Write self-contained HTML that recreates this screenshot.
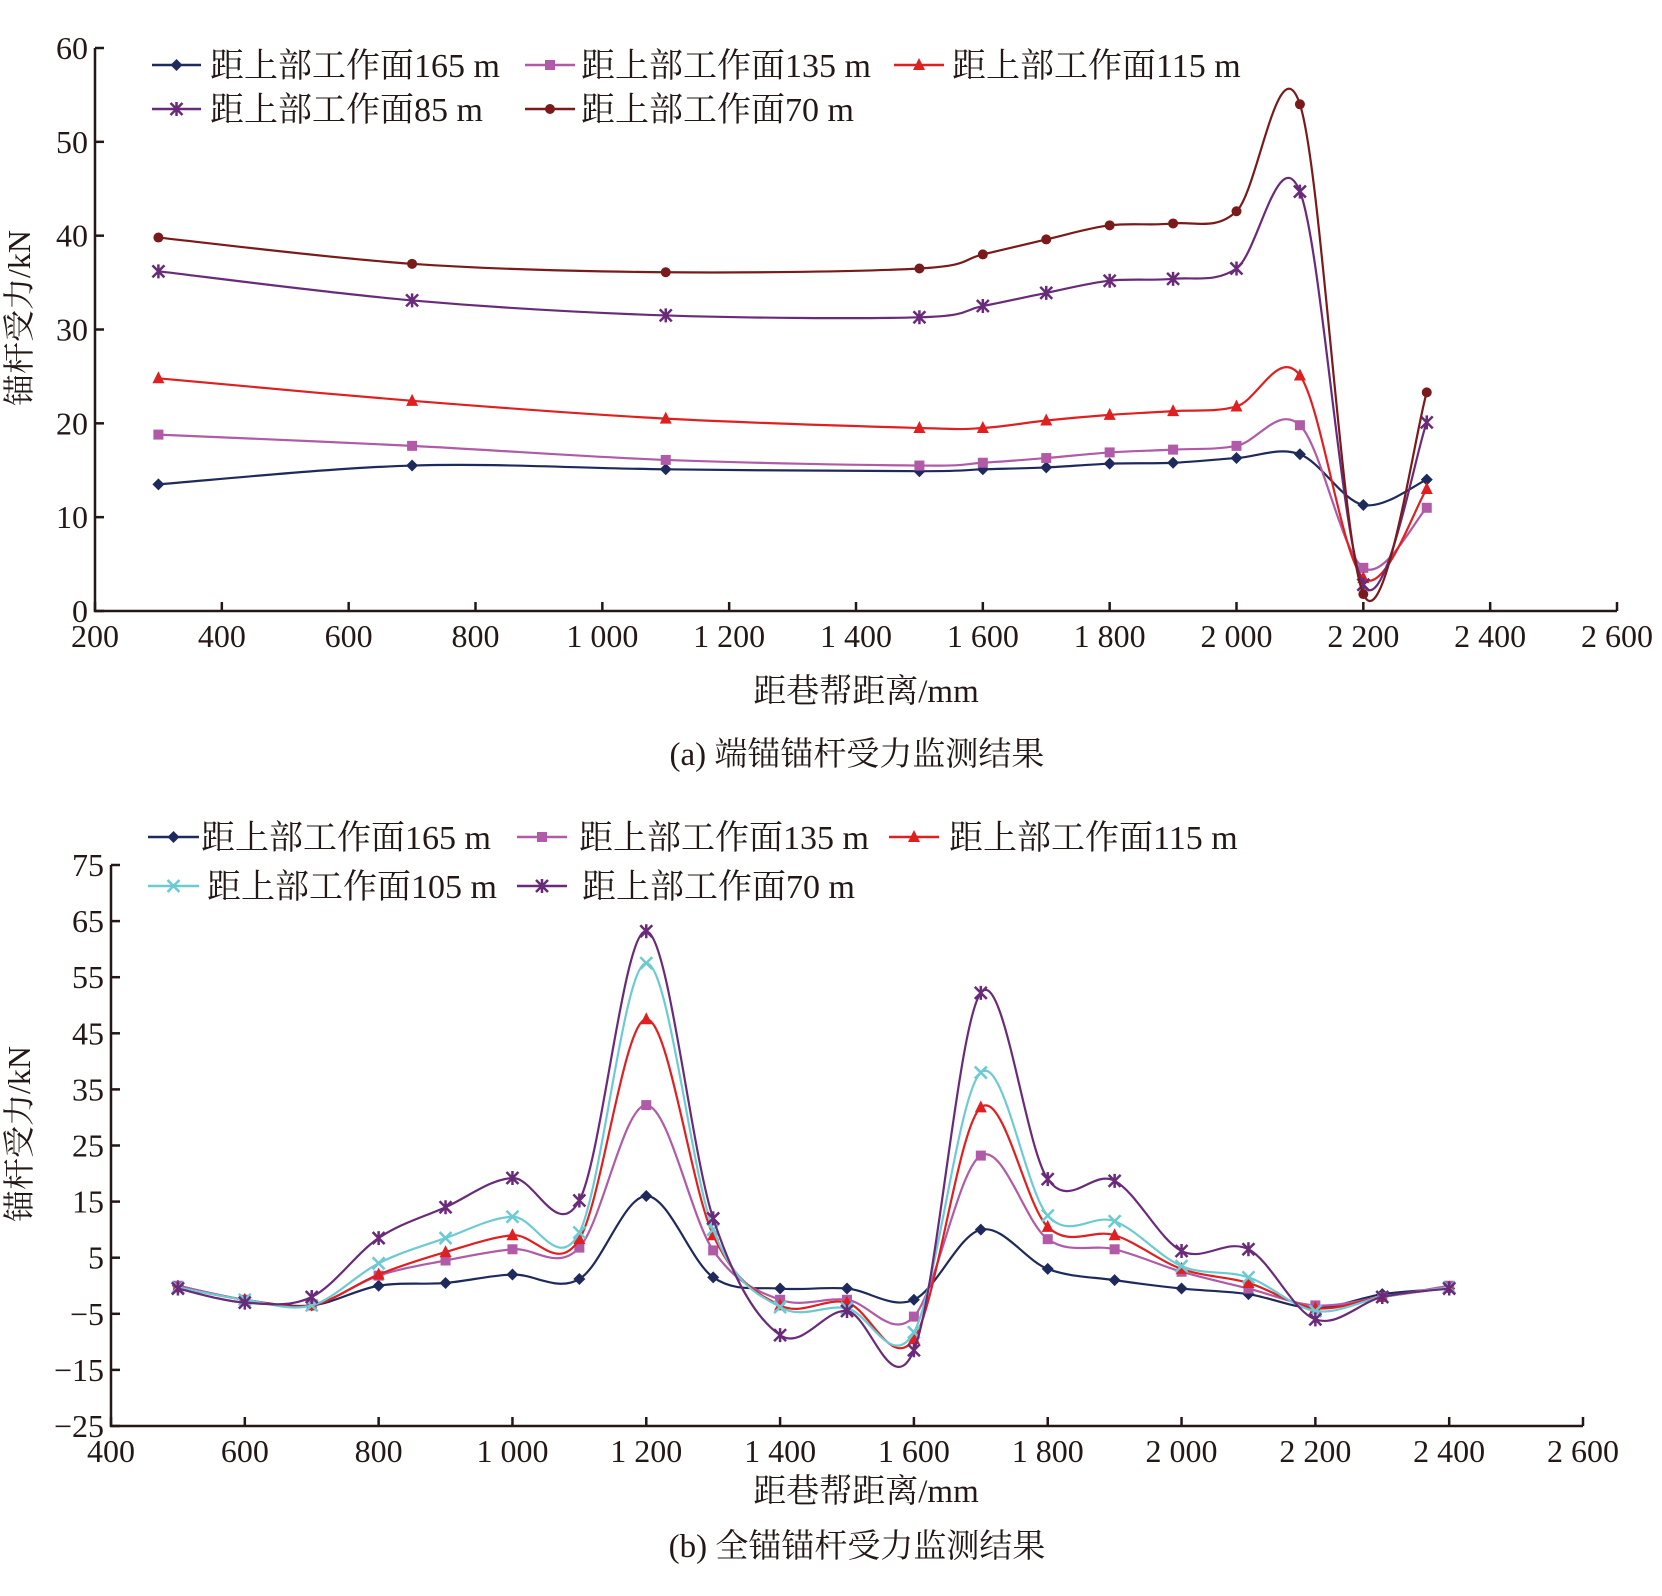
<!DOCTYPE html>
<html><head><meta charset="utf-8"><style>
body{margin:0;background:#fff}
svg text{font-family:"Liberation Serif","Noto Serif CJK SC",serif;fill:#231815}
</style></head><body>
<svg id="svg" width="1662" height="1591" viewBox="0 0 1662 1591"></svg>
<script>
// ---------- Chart (a) data ----------
const xA = [300,700,1100,1500,1600,1700,1800,1900,2000,2100,2200,2300];
const a165 = [13.5,15.5,15.1,14.9,15.1,15.3,15.7,15.8,16.3,16.7,11.3,14];
const a135 = [18.8,17.6,16.1,15.5,15.8,16.3,16.9,17.2,17.6,19.8,4.6,11];
const a115 = [24.8,22.4,20.5,19.5,19.5,20.3,20.9,21.3,21.8,25.1,3.5,13];
const a85 = [36.2,33.1,31.5,31.3,32.5,33.9,35.2,35.4,36.5,44.7,2.8,20.1];
const a70 = [39.8,37,36.1,36.5,38,39.6,41.1,41.3,42.6,54,1.8,23.3];
const aXTicks = [200,400,600,800,1000,1200,1400,1600,1800,2000,2200,2400,2600];
const aXLabels = ["200","400","600","800","1 000","1 200","1 400","1 600","1 800","2 000","2 200","2 400","2 600"];
const aYTicks = [0,10,20,30,40,50,60];
const aLegend = ["距上部工作面165 m","距上部工作面135 m","距上部工作面115 m","距上部工作面85 m","距上部工作面70 m"];
// ---------- Chart (b) data ----------
const xB = [500,600,700,800,900,1000,1100,1200,1300,1400,1500,1600,1700,1800,1900,2000,2100,2200,2300,2400];
const b165 = [0,-2.5,-3.5,0,0.5,2,1.2,16,1.5,-0.5,-0.5,-2.5,10,3,1,-0.5,-1.5,-4,-1.5,-0.5];
const b135 = [0,-2.5,-3.5,1.8,4.5,6.5,6.8,32.2,6.3,-2.5,-2.5,-5.5,23.2,8.3,6.5,2.5,-0.5,-3.5,-2,0];
const b115 = [-0.3,-2.5,-3.5,2,6,9,8.3,47.5,9,-3.5,-3,-9.5,31.8,10.5,9,3,0.5,-4,-2,-0.3];
const b105 = [-0.3,-2.5,-3.5,4,8.5,12.3,9.5,57.5,10,-3.8,-4,-8.3,38,12.5,11.5,3.5,1.5,-4.5,-2,-0.3];
const b70 = [-0.5,-3,-2,8.5,14,19.2,15.2,63.2,12,-8.8,-4.5,-11.5,52.2,19,18.7,6.2,6.5,-6,-2,-0.5];
const bXTicks = [400,600,800,1000,1200,1400,1600,1800,2000,2200,2400,2600];
const bXLabels = ["400","600","800","1 000","1 200","1 400","1 600","1 800","2 000","2 200","2 400","2 600"];
const bYTicks = [75,65,55,45,35,25,15,5,-5,-15,-25];
const bYLabels = ["75","65","55","45","35","25","15","5","\u22125","\u221215","\u221225"];
const bLegend = ["距上部工作面165 m","距上部工作面135 m","距上部工作面115 m","距上部工作面105 m","距上部工作面70 m"];

const NS="http://www.w3.org/2000/svg";
const svg=document.getElementById('svg');
function el(t,attrs,parent){const e=document.createElementNS(NS,t);for(const k in attrs)e.setAttribute(k,attrs[k]);(parent||svg).appendChild(e);return e;}
function txt(x,y,s,size,anchor,parent){const t=el('text',{x:x,y:y,'font-size':size,'text-anchor':anchor||'middle'},parent);t.textContent=s;return t;}
function smooth(pts){let d=`M${pts[0][0]},${pts[0][1]}`;for(let i=0;i<pts.length-1;i++){const p0=pts[i-1]||pts[i],p1=pts[i],p2=pts[i+1],p3=pts[i+2]||p2;const c1=[p1[0]+(p2[0]-p0[0])/6,p1[1]+(p2[1]-p0[1])/6],c2=[p2[0]-(p3[0]-p1[0])/6,p2[1]-(p3[1]-p1[1])/6];d+=` C${c1[0]},${c1[1]} ${c2[0]},${c2[1]} ${p2[0]},${p2[1]}`;}return d;}
function marker(g,type,x,y,c){
  if(type==='diamond')el('polygon',{points:`${x},${y-6} ${x+6},${y} ${x},${y+6} ${x-6},${y}`,fill:c},g);
  else if(type==='square')el('rect',{x:x-5,y:y-5,width:10,height:10,fill:c},g);
  else if(type==='tri')el('polygon',{points:`${x},${y-7} ${x+6},${y+5} ${x-6},${y+5}`,fill:c},g);
  else if(type==='circle')el('circle',{cx:x,cy:y,r:5,fill:c},g);
  else if(type==='x')el('path',{d:`M${x-6},${y-6}L${x+6},${y+6}M${x-6},${y+6}L${x+6},${y-6}`,stroke:c,'stroke-width':2.5},g);
  else if(type==='star')el('path',{d:`M${x-6},${y-6}L${x+6},${y+6}M${x-6},${y+6}L${x+6},${y-6}M${x},${y-7}L${x},${y+7}`,stroke:c,'stroke-width':2.5},g);
}

function chart(cfg){
  const g=el('g',{});
  
  
  const sx=v=>cfg.x0+(v-cfg.xmin)/(cfg.xmax-cfg.xmin)*(cfg.x1-cfg.x0);
  const sy=v=>cfg.y0+(v-cfg.ymin)/(cfg.ymax-cfg.ymin)*(cfg.y1-cfg.y0);
  const ax=el('path',{d:`M${cfg.x0},${cfg.y1}L${cfg.x0},${cfg.y0}L${cfg.x1},${cfg.y0}`,fill:'none',stroke:'#231815','stroke-width':2.5},g);
  
  
  cfg.xt.forEach((v,i)=>{const x=sx(v);el('line',{x1:x,x2:x,y1:cfg.y0,y2:cfg.y0-9,stroke:'#231815','stroke-width':2.5},g);
    const t=txt(x,cfg.y0+36,cfg.xl[i],32,'middle',g);
    
    });
  cfg.yt.forEach((v,i)=>{const y=sy(v);el('line',{x1:cfg.x0,x2:cfg.x0+9,y1:y,y2:y,stroke:'#231815','stroke-width':2.5},g);
    const t=txt(cfg.x0-7,y+11,cfg.yl[i],32,'end',g);
    
    });
  const xt=txt(866,cfg.xtY,'距巷帮距离/mm',33,'middle',g);
  
  
  const yt=txt(0,0,'锚杆受力/kN',32,'middle',g);
  yt.setAttribute('transform',`translate(30,${cfg.ytY}) rotate(-90)`);
  
  
  const cap=txt(cfg.capX,cfg.capY,cfg.cap,33,'middle',g);
  
  
  cfg.series.forEach((s,k)=>{
    const sg=el('g',{},g);
    
    
    const pts=cfg.xs.map((v,i)=>[sx(v),sy(s.data[i])]);
    el('path',{d:smooth(pts),fill:'none',stroke:s.c,'stroke-width':2.2},sg);
    pts.forEach(p=>marker(sg,s.m,p[0],p[1],s.c));
    const L=cfg.legend[k];
    const lg=el('g',{},g);
    
    
    el('line',{x1:L[0],x2:L[1],y1:L[3],y2:L[3],stroke:s.c,'stroke-width':2.5},lg);
    marker(lg,s.m,(L[0]+L[1])/2,L[3],s.c);
    txt(L[2],L[3]+12,cfg.lt[k],34,'start',lg);
  });
}

chart({name:'chart-a-end-anchored',x0:95,x1:1617,y0:611,y1:48,xmin:200,xmax:2600,ymin:0,ymax:60,
  xt:aXTicks,xl:aXLabels,yt:aYTicks,yl:aYTicks.map(String),xs:xA,xtY:702,ytY:318,
  cap:'(a) 端锚锚杆受力监测结果',capX:857,capY:765,lt:aLegend,
  legend:[[152,201,210,65],[525,575,581,65],[894,944,952,65],[152,201,210,109],[525,575,581,109]],
  series:[{key:'165m',data:a165,c:'#1f2a5c',m:'diamond'},{key:'135m',data:a135,c:'#b05aa8',m:'square'},
    {key:'115m',data:a115,c:'#e02020',m:'tri'},{key:'85m',data:a85,c:'#6a2a7a',m:'star'},{key:'70m',data:a70,c:'#7a1a1a',m:'circle'}]});

chart({name:'chart-b-full-anchored',x0:111,x1:1583,y0:1426,y1:865,xmin:400,xmax:2600,ymin:-25,ymax:75,
  xt:bXTicks,xl:bXLabels,yt:bYTicks,yl:bYLabels,xs:xB,xtY:1502,ytY:1134,
  cap:'(b) 全锚锚杆受力监测结果',capX:857,capY:1557,lt:bLegend,
  legend:[[148,199,201,837],[517,567,579,837],[889,939,949,837],[148,199,207,886],[517,567,582,886]],
  series:[{key:'165m',data:b165,c:'#1f2a5c',m:'diamond'},{key:'135m',data:b135,c:'#b05aa8',m:'square'},
    {key:'115m',data:b115,c:'#e02020',m:'tri'},{key:'105m',data:b105,c:'#6ccbd2',m:'x'},{key:'70m',data:b70,c:'#6a2a7a',m:'star'}]});
</script>
</body></html>
